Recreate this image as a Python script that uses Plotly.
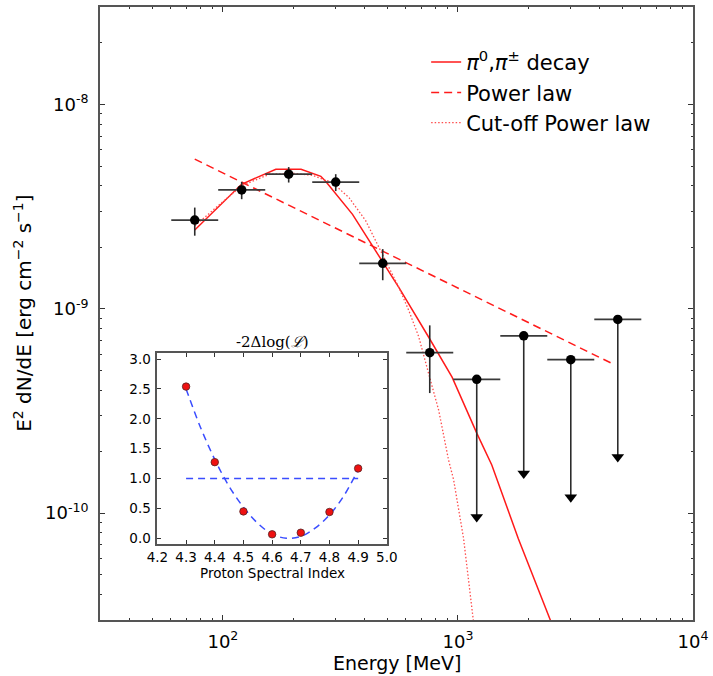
import math
import plotly.graph_objects as go

# ---- Fermi-LAT spectral points (energy in MeV, E^2 dN/dE in erg cm^-2 s^-1) ----
energy = [75.9, 120.2, 190.5, 302.0, 478.6, 758.6]
energy_lo = [60.3, 95.5, 151.4, 239.9, 380.2, 602.6]
energy_hi = [95.5, 151.4, 239.9, 380.2, 602.6, 955.0]
flux = [2.72e-9, 3.82e-9, 4.56e-9, 4.17e-9, 1.67e-9, 6.10e-10]
flux_lo = [2.28e-9, 3.44e-9, 4.15e-9, 3.77e-9, 1.38e-9, 3.87e-10]
flux_hi = [3.13e-9, 4.18e-9, 4.94e-9, 4.56e-9, 1.96e-9, 8.30e-10]

# upper limits
ul_energy = [1202.0, 1905.0, 3020.0, 4786.0]
ul_energy_lo = [955.0, 1514.0, 2399.0, 3802.0]
ul_energy_hi = [1514.0, 2399.0, 3802.0, 6026.0]
ul_flux = [4.52e-10, 7.38e-10, 5.64e-10, 8.87e-10]

# model curves
pion_energy = [75.9, 120.0, 168.0, 215.0, 261.0, 274.0, 356.0, 476.0, 561.0,
               751.0, 944.0, 1205.0, 1393.0, 1807.0, 2477.0, 3000.0]
pion_flux = [2.43e-9, 4.07e-9, 4.82e-9, 4.82e-9, 4.45e-9, 4.20e-9, 2.90e-9,
             1.72e-9, 1.27e-9, 7.26e-10, 4.63e-10, 2.45e-10, 1.72e-10,
             7.5e-11, 3.0e-11, 1.7e-11]

pl_energy = [75.9, 4600.0]
pl_flux = [5.40e-9, 5.35e-10]

cpl_energy = [75.9, 96.8, 120.0, 158.0, 200.0, 240.0, 274.0, 292.0, 344.0,
              405.0, 461.0, 508.0, 561.0, 618.0, 681.0, 751.0, 828.0, 912.0,
              958.0, 1057.0, 1165.0, 1200.0]
cpl_flux = [2.55e-9, 3.25e-9, 4.00e-9, 4.56e-9, 4.60e-9, 4.50e-9, 4.25e-9,
            4.15e-9, 3.50e-9, 2.70e-9, 2.00e-9, 1.59e-9, 1.27e-9, 9.8e-10,
            7.3e-10, 4.8e-10, 3.19e-10, 1.82e-10, 1.46e-10, 7.5e-11, 3.0e-11,
            2.2e-11]

# likelihood scan over the proton spectral index
scan_index = [4.3, 4.4, 4.5, 4.6, 4.7, 4.8, 4.9]
scan_dlogl = [2.54, 1.275, 0.45, 0.066, 0.093, 0.44, 1.17]
fit_index = [4.30, 4.35, 4.40, 4.45, 4.50, 4.55, 4.60, 4.65, 4.70, 4.75,
             4.80, 4.85, 4.90]
fit_dlogl = [2.50, 1.86, 1.32, 0.87, 0.52, 0.25, 0.07, 0.00, 0.03, 0.17,
             0.39, 0.71, 1.15]
one_sigma_index = [4.3, 4.9]
one_sigma_level = [1.0, 1.0]

x_major = [100, 1000, 10000]
x_major_text = ["10<sup>2</sup>", "10<sup>3</sup>", "10<sup>4</sup>"]
y_major = [1e-10, 1e-9, 1e-8]
y_major_text = ["10<sup>-10</sup>", "10<sup>-9</sup>", "10<sup>-8</sup>"]

ARROW_FRACTION = 0.2  # upper-limit arrows extend down to 20% of the limit

RED = "#ff1a1a"
FRAME = "#555555"
BAR = "#2b2b2b"
FONT = "DejaVu Sans, Liberation Sans, sans-serif"
INSET_X = [0.0968, 0.4837]
INSET_Y = [0.1236, 0.4353]

fig = go.Figure()

# model curves (legend entries)
fig.add_trace(go.Scatter(
    x=pion_energy, y=pion_flux, mode="lines",
    line=dict(color=RED, width=1.5),
    name="<i>π</i><sup>0</sup>,<i>π</i><sup>±</sup> decay"))
fig.add_trace(go.Scatter(
    x=pl_energy, y=pl_flux, mode="lines",
    line=dict(color=RED, width=1.5, dash="8px,5px"),
    name="Power law"))
fig.add_trace(go.Scatter(
    x=cpl_energy, y=cpl_flux, mode="lines",
    line=dict(color="#ff4d4d", width=1.3, dash="1.5px,2px"),
    name="Cut-off Power law"))

# detected points with errors
fig.add_trace(go.Scatter(
    x=energy, y=flux, mode="markers", showlegend=False,
    marker=dict(color="black", size=9.5),
    error_x=dict(type="data", symmetric=False,
                 array=[h - e for h, e in zip(energy_hi, energy)],
                 arrayminus=[e - l for e, l in zip(energy, energy_lo)],
                 color="#3a3a3a", thickness=1.8, width=0),
    error_y=dict(type="data", symmetric=False,
                 array=[h - f for h, f in zip(flux_hi, flux)],
                 arrayminus=[f - l for f, l in zip(flux, flux_lo)],
                 color=BAR, thickness=1.6, width=0)))

# upper limits: vertical stems
stem_x, stem_y = [], []
for e, f in zip(ul_energy, ul_flux):
    stem_x += [e, e, None]
    stem_y += [f, f * ARROW_FRACTION * 1.06, None]
fig.add_trace(go.Scatter(
    x=stem_x, y=stem_y, mode="lines", showlegend=False,
    line=dict(color=BAR, width=1.6)))
fig.add_trace(go.Scatter(
    x=ul_energy, y=[f * ARROW_FRACTION * 1.06 for f in ul_flux],
    mode="markers", showlegend=False,
    marker=dict(symbol="triangle-down", size=11, color="black")))
fig.add_trace(go.Scatter(
    x=ul_energy, y=ul_flux, mode="markers", showlegend=False,
    marker=dict(color="black", size=9.5),
    error_x=dict(type="data", symmetric=False,
                 array=[h - e for h, e in zip(ul_energy_hi, ul_energy)],
                 arrayminus=[e - l for e, l in zip(ul_energy, ul_energy_lo)],
                 color="#3a3a3a", thickness=1.8, width=0)))

# inset: likelihood profile
fig.add_trace(go.Scatter(
    x=fit_index, y=fit_dlogl, mode="lines", xaxis="x2", yaxis="y2",
    showlegend=False, line=dict(color="#3a4dff", width=1.5, dash="7px,5px", shape="spline")))
fig.add_trace(go.Scatter(
    x=one_sigma_index, y=one_sigma_level, mode="lines", xaxis="x2", yaxis="y2",
    showlegend=False, line=dict(color="#3a4dff", width=1.5, dash="7px,5px")))
fig.add_trace(go.Scatter(
    x=scan_index, y=scan_dlogl, mode="markers", xaxis="x2", yaxis="y2",
    showlegend=False,
    marker=dict(color="#ee1111", size=7.5, line=dict(color="#552222", width=0.8))))

x_minor = [v * 10 ** k for k in (1, 2, 3) for v in range(2, 10) if 30 < v * 10 ** k < 10000]
y_minor = [v * 10.0 ** k for k in (-11, -10, -9, -8) for v in range(2, 10)
           if 3e-11 < v * 10.0 ** k < 3e-8]

axis_common = dict(showline=True, linecolor=FRAME, linewidth=1.8, mirror="allticks",
                   ticks="inside", tickcolor="#333333", tickwidth=1, showgrid=False,
                   zeroline=False)

fig.update_layout(
    width=713, height=676,
    margin=dict(l=100, r=17, t=5, b=56),
    paper_bgcolor="white", plot_bgcolor="white",
    font=dict(family=FONT, color="black"),
    xaxis=dict(type="log", range=[math.log10(30), 4], tickmode="array",
               tickvals=x_major, ticktext=x_major_text, ticklen=5,
               tickfont=dict(size=18), ticklabelstandoff=4,
               minor=dict(tickvals=x_minor, ticks="inside", ticklen=2.5,
                          tickcolor="#333333"),
               domain=[0, 1], **axis_common),
    yaxis=dict(type="log", range=[math.log10(3e-11), math.log10(3e-8)], tickmode="array",
               tickvals=y_major, ticktext=y_major_text, ticklen=5,
               tickfont=dict(size=18), ticklabelstandoff=6,
               minor=dict(tickvals=y_minor, ticks="inside", ticklen=2.5,
                          tickcolor="#333333"),
               domain=[0, 1], **axis_common),
    xaxis2=dict(range=[4.2, 5.0], dtick=0.1, tick0=4.2, tickformat=".1f",
                domain=INSET_X, anchor="y2", ticklen=4,
                tickfont=dict(size=13.5), ticklabelstandoff=0,
                **axis_common),
    yaxis2=dict(range=[-0.1, 3.1], dtick=0.5, tick0=0, tickformat=".1f",
                domain=INSET_Y, anchor="x2", ticklen=4,
                tickfont=dict(size=13.5), ticklabelstandoff=2,
                **axis_common),
    legend=dict(x=0.55, y=0.943, xanchor="left", yanchor="top",
                bgcolor="rgba(0,0,0,0)", borderwidth=0,
                font=dict(size=21, family=FONT), itemwidth=30),
    annotations=[
        dict(text="Energy [MeV]", xref="paper", yref="paper", x=0.5, y=-0.07,
             xanchor="center", yanchor="middle", showarrow=False,
             font=dict(size=19)),
        dict(text="E<sup>2</sup> dN/dE [erg cm<sup>−2</sup> s<sup>−1</sup>]",
             xref="paper", yref="paper", x=-0.131, y=0.5, textangle=-90,
             xanchor="center", yanchor="middle", showarrow=False,
             font=dict(size=20)),
        dict(text="-2Δlog(<i>ℒ</i>)", xref="paper", yref="paper",
             x=sum(INSET_X) / 2, y=INSET_Y[1], xanchor="center", yanchor="bottom",
             showarrow=False, font=dict(size=15, family="DejaVu Serif, Liberation Serif, serif")),
        dict(text="Proton Spectral Index", xref="paper", yref="paper",
             x=sum(INSET_X) / 2, y=0.0764, xanchor="center", yanchor="middle",
             showarrow=False, font=dict(size=13.5)),
    ],
)

fig.write_html("out.html")
